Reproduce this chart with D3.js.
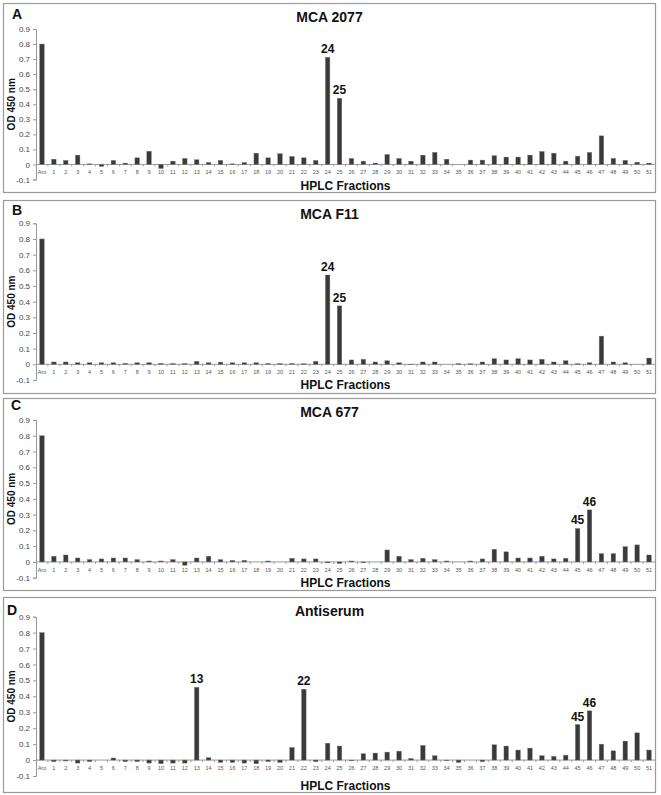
<!DOCTYPE html>
<html>
<head>
<meta charset="utf-8">
<script src="https://cdn.jsdelivr.net/npm/d3@7"></script>
<style>
  body { margin: 0; background: #fff; }
  svg { display: block; font-family: "Liberation Sans", Arial, sans-serif; }
</style>
</head>
<body>
<div id="chart"></div>
<script>
// Fractions on the x axis
const categories = ["Aro"].concat(d3.range(1, 52).map(String));

const yTicks = [-0.1, 0, 0.1, 0.2, 0.3, 0.4, 0.5, 0.6, 0.7, 0.8, 0.9];

const panelLetters = ["A", "B", "C", "D"];
const panelTitles = ["MCA 2077", "MCA F11", "MCA 677", "Antiserum"];

// OD 450 nm per fraction
const valuesA = [0.80, 0.035, 0.027, 0.062, 0.004, -0.013, 0.027, 0.009, 0.044, 0.088, -0.027,
  0.022, 0.040, 0.031, 0.013, 0.027, 0.004, 0.013, 0.075, 0.044, 0.071,
  0.053, 0.044, 0.027, 0.712, 0.440, 0.040, 0.022, 0.009, 0.066, 0.040,
  0.022, 0.062, 0.080, 0.035, 0, 0.029, 0.029, 0.058, 0.049, 0.049,
  0.062, 0.086, 0.075, 0.022, 0.055, 0.080, 0.190, 0.040, 0.027, 0.015, 0.009];

const valuesB = [0.80, 0.015, 0.015, 0.010, 0.010, 0.010, 0.010, 0.006, 0.010, 0.010, 0.006,
  0.005, 0.005, 0.019, 0.010, 0.014, 0.010, 0.010, 0.010, 0.005, 0.005,
  0.005, 0.004, 0.019, 0.570, 0.373, 0.028, 0.032, 0.015, 0.023, 0.010,
  -0.003, 0.015, 0.015, 0, 0.004, 0.004, 0.015, 0.036, 0.028, 0.036,
  0.028, 0.032, 0.015, 0.023, 0.004, 0.010, 0.180, 0.015, 0.010, 0, 0.040];

const valuesC = [0.80, 0.036, 0.044, 0.025, 0.015, 0.019, 0.025, 0.025, 0.015, 0.006, 0.006,
  0.015, -0.021, 0.025, 0.036, 0.015, 0.010, 0.010, 0, 0.006, 0,
  0.023, 0.019, 0.019, -0.006, -0.010, 0.006, -0.005, 0, 0.076, 0.036,
  0.015, 0.023, 0.015, 0.006, 0, 0.006, 0.019, 0.080, 0.064, 0.025,
  0.025, 0.036, 0.019, 0.023, 0.212, 0.330, 0.053, 0.053, 0.097, 0.108, 0.044];

const valuesD = [0.80, -0.010, -0.006, -0.019, -0.010, 0, 0.013, -0.010, -0.010, -0.019, -0.023,
  -0.019, -0.019, 0.457, 0.015, -0.015, -0.015, -0.019, -0.023, -0.010, -0.015,
  0.079, 0.445, -0.010, 0.106, 0.088, -0.005, 0.040, 0.044, 0.050, 0.056,
  0.010, 0.092, 0.027, -0.004, -0.015, 0, -0.010, 0.096, 0.088, 0.063,
  0.075, 0.027, 0.023, 0.031, 0.223, 0.309, 0.100, 0.058, 0.119, 0.171, 0.063];

const allValues = [valuesA, valuesB, valuesC, valuesD];

// Fractions that get a label over their bar
const peakLabels = [["24", "25"], ["24", "25"], ["45", "46"], ["13", "22", "45", "46"]];

// Layout of each boxed panel (pixel positions)
const panelBoxes = [
  { top: 3, bottom: 193, y09: 29, yNeg: 179.5, letterX: 12, letterY: 18.5, xTitleY: 190 },
  { top: 200, bottom: 394, y09: 223.3, yNeg: 380, letterX: 12, letterY: 214.5, xTitleY: 388.5 },
  { top: 398, bottom: 591, y09: 420, yNeg: 577.7, letterX: 11, letterY: 409.5, xTitleY: 586.5 },
  { top: 597, bottom: 793, y09: 616.7, yNeg: 776, letterX: 7, letterY: 615, xTitleY: 790 }
];

const width = 661, height = 795;
const boxLeft = 3, boxRight = 656;
const plotLeft = 36, plotRight = 655;

const svg = d3.select("#chart").append("svg")
  .attr("width", width)
  .attr("height", height);

const x = d3.scaleBand()
  .domain(categories)
  .range([plotLeft, plotRight])
  .paddingInner(0.62)
  .paddingOuter(0.31);

// plain hyphen for negatives, like the original spreadsheet axis
const fmtTick = d => d === 0 ? "0" : d.toFixed(1);

panelBoxes.forEach((box, i) => {
  const values = allValues[i];
  const g = svg.append("g");

  // panel frame
  g.append("rect")
    .attr("x", boxLeft + 0.5).attr("y", box.top + 0.5)
    .attr("width", boxRight - boxLeft - 1).attr("height", box.bottom - box.top - 1)
    .attr("fill", "none").attr("stroke", "#9a9a9a").attr("stroke-width", 1.2);

  const y = d3.scaleLinear().domain([-0.1, 0.9]).range([box.yNeg, box.y09]);

  // letter and title
  g.append("text")
    .attr("x", box.letterX).attr("y", box.letterY)
    .attr("font-size", 14).attr("font-weight", "bold").attr("fill", "#111")
    .text(panelLetters[i]);

  g.append("text")
    .attr("x", (boxLeft + boxRight) / 2).attr("y", box.top + 19)
    .attr("text-anchor", "middle")
    .attr("font-size", 14).attr("font-weight", "bold").attr("fill", "#111")
    .text(panelTitles[i]);

  // y axis
  const yAxis = g.append("g")
    .attr("transform", `translate(${plotLeft},0)`)
    .call(d3.axisLeft(y).tickValues(yTicks).tickSize(3).tickPadding(3).tickFormat(fmtTick));
  yAxis.select(".domain").attr("stroke", "#999");
  yAxis.selectAll(".tick line").attr("stroke", "#999");
  yAxis.selectAll("text").attr("font-size", 8).attr("fill", "#444")
    .attr("font-family", "'Liberation Sans', Arial, sans-serif");

  g.append("text")
    .attr("transform", `translate(15,${(box.y09 + box.yNeg) / 2}) rotate(-90)`)
    .attr("text-anchor", "middle")
    .attr("font-size", 10).attr("font-weight", "bold").attr("fill", "#111")
    .text("OD 450 nm");

  // x axis at zero
  const y0 = y(0);
  g.append("line")
    .attr("x1", plotLeft).attr("x2", plotRight)
    .attr("y1", y0).attr("y2", y0)
    .attr("stroke", "#999");
  g.selectAll(".xtick").data(categories.slice(1)).enter().append("line")
    .attr("x1", d => x(d) - x.step() * x.paddingInner() / 2)
    .attr("x2", d => x(d) - x.step() * x.paddingInner() / 2)
    .attr("y1", y0).attr("y2", y0 + 2)
    .attr("stroke", "#999");

  g.selectAll(".xlab").data(categories).enter().append("text")
    .attr("x", d => x(d) + x.bandwidth() / 2)
    .attr("y", box.yNeg - 6)
    .attr("text-anchor", "middle")
    .attr("font-size", 5.5).attr("fill", "#555")
    .text(d => d);

  g.append("text")
    .attr("x", (plotLeft + plotRight) / 2).attr("y", box.xTitleY)
    .attr("text-anchor", "middle")
    .attr("font-size", 12).attr("font-weight", "bold").attr("fill", "#111")
    .text("HPLC Fractions");

  // bars
  g.selectAll(".bar").data(values).enter().append("rect")
    .attr("x", (d, j) => x(categories[j]))
    .attr("width", x.bandwidth())
    .attr("y", d => y(Math.max(0, d)))
    .attr("height", d => Math.abs(y(d) - y0))
    .attr("fill", "#3a3a3a")
    .attr("stroke", "#777").attr("stroke-width", 0.4);

  // peak labels
  g.selectAll(".peak").data(peakLabels[i]).enter().append("text")
    .attr("x", d => x(d) + x.bandwidth() / 2)
    .attr("y", d => y(values[categories.indexOf(d)]) - 4)
    .attr("text-anchor", "middle")
    .attr("font-size", 12).attr("font-weight", "bold").attr("fill", "#111")
    .text(d => d);
});
</script>
</body>
</html>
